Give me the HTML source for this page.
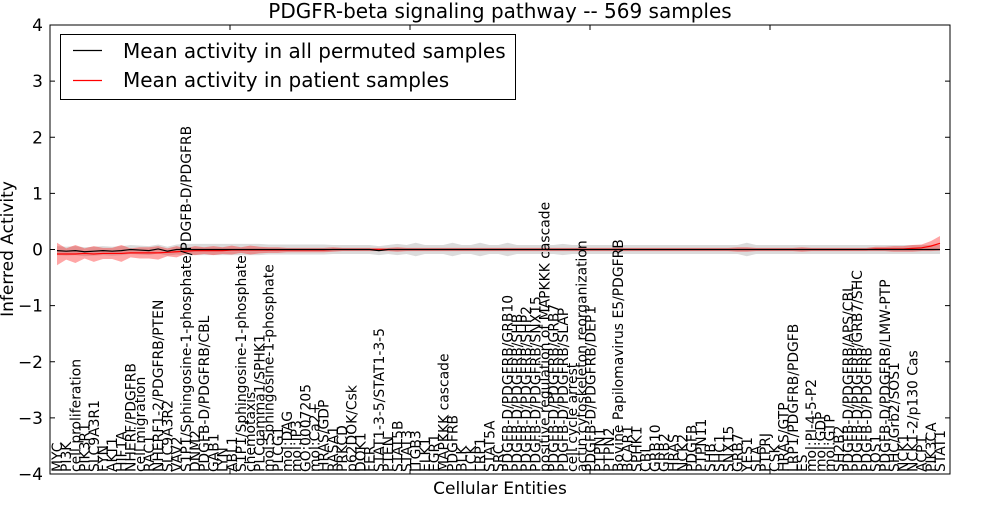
<!DOCTYPE html>
<html><head><meta charset="utf-8"><style>
body{margin:0;background:#fff;}
svg text{font-family:"DejaVu Sans","Liberation Sans",sans-serif;}
</style></head><body>
<svg id="chart" width="1000" height="500" xmlns="http://www.w3.org/2000/svg">
<rect width="1000" height="500" fill="#fff"/>
<text x="500" y="18" font-size="20" text-anchor="middle">PDGFR-beta signaling pathway -- 569 samples</text>
<text transform="translate(13,249) rotate(-90)" font-size="17" text-anchor="middle">Inferred Activity</text>
<text x="500" y="494" font-size="17" text-anchor="middle">Cellular Entities</text>
<g id="bands"></g>
<g id="lines"></g>
<g id="xlabels"></g>
<g id="axes"></g>
<g>
<rect x="60.5" y="34.5" width="455" height="65" fill="#fff" stroke="#000" stroke-width="1"/>
<line x1="73" y1="50.5" x2="102" y2="50.5" stroke="#000" stroke-width="1.2"/>
<text x="123" y="58" font-size="20">Mean activity in all permuted samples</text>
<line x1="73" y1="80.5" x2="102" y2="80.5" stroke="#f00" stroke-width="1.2"/>
<text x="123" y="87" font-size="20">Mean activity in patient samples</text>
</g>
</svg>
<script>
const entities = ["MYC","PI3K","cell proliferation","PIK3R1","SLC9A3R1","FYN","AKT1","HIF1A","NHERF/PDGFRB","cell migration","RAC1","NHERF1-2/PDGFRB/PTEN","SLC9A3R2","VAV2","S1P1/Sphingosine-1-phosphate/PDGFB-D/PDGFRB","DNM2","PDGFB-D/PDGFRB/CBL","GAB1","LYN","ABL1","S1P1/Sphingosine-1-phosphate","chemotaxis","PLCgamma1/SPHK1","mol:Sphingosine-1-phosphate","PLCG1","mol:DAG","mol:IP3","GO:0007205","mol:Ca2+","HRAS/GDP","RASA1","PRKCD","p62DOK/Csk","DOK1","FER","STAT1-3-5/STAT1-3-5","PTEN","STAT5B","STAT3","ITGB3","ELK1","EGR1","MAPKKK cascade","PDGFRB","BLK","LCK","LRP1","STAT5A","SRC","PDGFB-D/PDGFRB/GRB10","PDGFB-D/PDGFRB/SHB","PDGFB-D/PDGFRB/SHP2","PDGFB-D/PDGFRB/SNX15","positive regulation of MAPKKK cascade","PDGFB-D/PDGFRB/GRB7","PDGFB-D/PDGFRB/SLAP","cell cycle arrest","actin cytoskeleton reorganization","PDGFB-D/PDGFRB/DEP1","PTPN1","PTPN2","Bovine Papilomavirus E5/PDGFRB","BCAR1","SPHK1","CBL","GRB10","GRB2","HRAS","NCK2","PDGFB","PTPN11","SHB","SHC1","SNX15","GRB7","YES1","SLA","PTPRJ","CSK","HRAS/GTP","LRP1/PDGFRB/PDGFB","ES","mol:PI-4-5-P2","mol:GDP","mol:GTP","SH2B2","PDGFB-D/PDGFRB/APS/CBL","PDGFB-D/PDGFRB/GRB7/SHC","PDGFB-D/PDGFRB","SOS1","PDGFB-D/PDGFRB/LMW-PTP","SHC/Grb2/SOS1","NCK1","NCK1-2/p130 Cas","ACP1","PIK3CA","STAT1"];
const permMean = [-0.02,-0.03,-0.02,-0.04,-0.03,-0.02,-0.03,-0.02,0,-0.01,-0.02,0.01,-0.03,0,0,0,0,0,0,0,0,0,0,0,0,0,0,0,0,0,0,0,0,0,0,-0.02,0,0,0,0,0,0,0,0,0,0,0,0,0,0,0,0,0,0,0,0,0,0,0,0,0,0,0,0,0,0,0,0,0,0,0,0,0,0,0,0,0,0,0,0,0,0,0,0,0,0,0,0,0,0,0,0,0,0,0,0,0];
const permHalf = [0.08,0.08,0.08,0.08,0.08,0.08,0.08,0.08,0.08,0.08,0.08,0.08,0.08,0.09,0.1,0.1,0.1,0.1,0.1,0.1,0.1,0.1,0.1,0.09,0.09,0.09,0.09,0.09,0.09,0.09,0.08,0.08,0.08,0.08,0.08,0.08,0.08,0.1,0.08,0.12,0.08,0.08,0.08,0.12,0.08,0.08,0.12,0.08,0.08,0.12,0.08,0.08,0.08,0.08,0.08,0.1,0.08,0.08,0.08,0.08,0.08,0.08,0.08,0.08,0.08,0.08,0.08,0.08,0.08,0.08,0.08,0.08,0.08,0.08,0.08,0.12,0.08,0.08,0.08,0.08,0.08,0.08,0.08,0.08,0.08,0.08,0.08,0.08,0.08,0.08,0.08,0.08,0.08,0.08,0.08,0.08,0.08];
const patientMean = [-0.08,-0.08,-0.08,-0.07,-0.08,-0.07,-0.07,-0.07,-0.06,-0.06,-0.06,-0.06,-0.05,-0.04,-0.03,-0.02,-0.02,-0.02,-0.02,-0.01,-0.01,-0.01,-0.01,-0.01,-0.01,-0.01,-0.01,-0.01,-0.01,-0.01,0,0,0,0,0,0,0,0,0,0,0,0,0,0,0,0,0,0,0,0,0,0,0,0,0,0,0,0,0,0,0,0,0,0,0,0,0,0,0,0,0,0,0,0,0,0,0,0,0,0,0,0,0,0,0,0,0,0,0,0.01,0.01,0.01,0.01,0.02,0.03,0.06,0.11];
const patientHalf = [0.2,0.1,0.16,0.09,0.14,0.1,0.1,0.15,0.08,0.1,0.1,0.12,0.07,0.1,0.05,0.08,0.06,0.08,0.06,0.08,0.05,0.08,0.06,0.05,0.05,0.04,0.04,0.04,0.04,0.04,0.04,0.03,0.03,0.03,0.03,0.03,0.03,0.04,0.03,0.03,0.03,0.03,0.03,0.03,0.03,0.03,0.03,0.03,0.03,0.03,0.03,0.03,0.03,0.03,0.03,0.03,0.03,0.03,0.03,0.03,0.03,0.03,0.03,0.03,0.03,0.03,0.03,0.03,0.03,0.03,0.03,0.03,0.03,0.03,0.04,0.04,0.03,0.03,0.03,0.03,0.03,0.04,0.03,0.03,0.03,0.03,0.03,0.03,0.03,0.04,0.04,0.05,0.05,0.06,0.06,0.09,0.13];
const yTicks = [-4,-3,-2,-1,0,1,2,3,4];

const NS = "http://www.w3.org/2000/svg";
const L = 50, R = 950, T = 25, B = 474;
const x = i => 57 + i * (940 - 57) / (entities.length - 1);
const y = v => T + (4 - v) / 8 * (B - T);
function mk(tag, attrs, parent) {
  const e = document.createElementNS(NS, tag);
  for (const k in attrs) e.setAttribute(k, attrs[k]);
  parent.appendChild(e);
  return e;
}
function band(mean, half, fill, op, name) {
  let d = "";
  mean.forEach((m, i) => { d += (i ? "L" : "M") + x(i) + "," + y(m + half[i]); });
  for (let i = mean.length - 1; i >= 0; i--) d += "L" + x(i) + "," + y(mean[i] - half[i]);
  const p = mk("path", {d: d + "Z", fill: fill, "fill-opacity": op, stroke: "none"}, document.getElementById("bands"));
  
  
}
function line(mean, color, name) {
  const d = mean.map((m, i) => (i ? "L" : "M") + x(i) + "," + y(m)).join("");
  const p = mk("path", {d: d, fill: "none", stroke: color, "stroke-width": 1.2}, document.getElementById("lines"));
  
  
}
band(permMean, permHalf, "#999", 0.35, "permuted-band");
band(patientMean, patientHalf, "#f00", 0.35, "patient-band");
line(patientMean, "#f00", "patient-mean-line");
line(permMean, "#000", "permuted-mean-line");

const xl = document.getElementById("xlabels");
entities.forEach((name, i) => {
  const t = mk("text", {transform: "translate(" + (x(i) + 5) + ",472) rotate(-90)", "font-size": "13.9"}, xl);
  t.textContent = name;
  
  
});

const ax = document.getElementById("axes");
const frame = mk("rect", {x: L, y: T, width: R - L, height: B - T, fill: "none", stroke: "#000", "stroke-width": 1}, ax);


yTicks.forEach(v => {
  const yy = y(v);
  const t1 = mk("line", {x1: L, x2: L + 5, y1: yy, y2: yy, stroke: "#000"}, ax);
  
  
  const t2 = mk("line", {x1: R - 5, x2: R, y1: yy, y2: yy, stroke: "#000"}, ax);
  
  
  const lb = mk("text", {x: L - 7, y: yy + 6, "font-size": "17", "text-anchor": "end"}, ax);
  lb.textContent = v < 0 ? "\u2212" + Math.abs(v) : String(v);
  
  
});
for (let k = 1; k < 5; k++) {
  const xx = L + k * 180;
  const a = mk("line", {x1: xx, x2: xx, y1: T, y2: T + 5, stroke: "#000"}, ax);
  
  
  const b = mk("line", {x1: xx, x2: xx, y1: B - 5, y2: B, stroke: "#000"}, ax);
  
  
}
</script>
</body></html>
